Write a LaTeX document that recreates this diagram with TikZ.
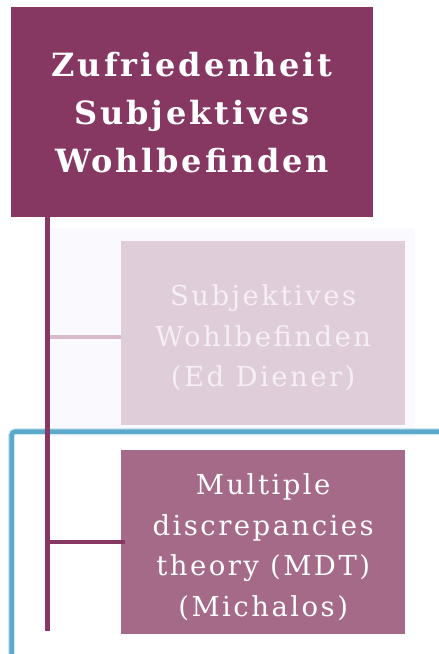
\documentclass[tikz,border=0pt]{standalone}
\usepackage{fontspec}
\setmainfont{DejaVu Serif}
\newfontfamily\spacedfont[LetterSpace=9]{DejaVu Serif}
\definecolor{cplum}{HTML}{873862}
\definecolor{cpale}{HTML}{E0CDDA}
\definecolor{cpaletext}{HTML}{F6EFF4}
\definecolor{cpaleline}{HTML}{D8BACD}
\definecolor{cmauve}{HTML}{A56A88}
\definecolor{cpanel}{HTML}{FAF9FE}
\definecolor{cblue}{HTML}{5BA9CB}
\definecolor{cbluehalo}{HTML}{D2E8F2}

\tikzset{
    topicbox/.style={anchor=north west, inner sep=0pt, align=center, text=white},
    subbox/.style={topicbox, minimum width=284pt, minimum height=184pt,
        font=\spacedfont\fontsize{27.5}{40.5}\selectfont},
}

\begin{document}
\begin{tikzpicture}[x=1pt, y=-1pt]
\useasboundingbox (0,0) rectangle (439,654);

% background panel behind the first branch
\fill [cpanel] (50,228) rectangle (415,437);

% root box
\node [topicbox, fill=cplum, minimum width=362pt, minimum height=210pt,
    font=\spacedfont\bfseries\fontsize{32}{48}\selectfont] (root) at (11,7)
    {Zufriedenheit\\Subjektives\\Wohlbefinden};

% branch boxes
\node [subbox, fill=cpale, text=cpaletext] (diener) at (121,241)
    {\\[-10pt]Subjektives\\Wohlbefinden\\(Ed Diener)};
\node [subbox, fill=cmauve] (mdt) at (121,450)
    {\\[-10pt]Multiple\\discrepancies\\theory (MDT)\\(Michalos)};

% blue frame
\draw [line width=7pt, cbluehalo, rounded corners=4pt] (11.5,654) -- (11.5,431.5) -- (439,431.5);
\draw [line width=4.5pt, cblue, rounded corners=4pt] (11.5,654) -- (11.5,431.5) -- (439,431.5);

% trunk and branches
\coordinate (trunktop) at (47.5,217);
\coordinate (trunkend) at (47.5,631);
\draw [line width=4.5pt, cplum] (trunktop) -- (trunkend);
\draw [line width=4pt, cpaleline] ([xshift=2pt, yshift=-4pt]trunktop |- diener.west) -- ([yshift=-4pt]diener.west);
\draw [line width=4pt, cplum] (trunktop |- mdt.west) -- ([xshift=4pt]mdt.west);

\end{tikzpicture}
\end{document}
